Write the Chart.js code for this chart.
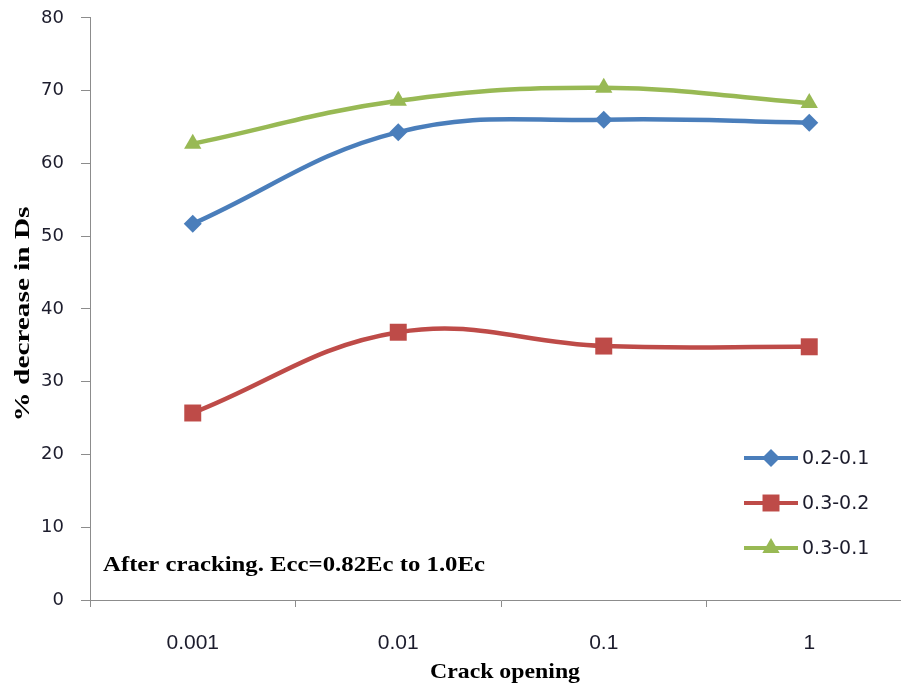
<!DOCTYPE html>
<html>
<head>
<meta charset="utf-8">
<script src="https://cdn.jsdelivr.net/npm/chart.js@4.4.1/dist/chart.umd.min.js"></script>
<style>
  html, body { margin: 0; padding: 0; background: #fff; overflow: hidden; }
  #wrap { width: 901px; height: 691px; overflow: hidden; }
</style>
</head>
<body>
<div id="wrap"><canvas id="canvas" width="924" height="691"></canvas></div>
<script>
// データ
var crackOpening = ['0.001', '0.01', '0.1', '1'];
var s02_01 = [51.7, 64.3, 66.0, 65.6];
var s03_02 = [25.7, 36.8, 34.9, 34.8];
var s03_01 = [62.7, 68.6, 70.4, 68.3];
var seriesNames = ['0.2-0.1', '0.3-0.2', '0.3-0.1'];
var yTicks = [0, 10, 20, 30, 40, 50, 60, 70, 80];

var blue = '#4A7EBB';
var red = '#BE4B48';
var green = '#98B954';
var serif = '"Liberation Serif", "Times New Roman", serif';

// 横に引き伸ばした太字セリフ文字
function wideText(ctx, text, x, y, size, targetW, align) {
  ctx.save();
  ctx.font = 'bold ' + size + 'px ' + serif;
  var w = ctx.measureText(text).width;
  var k = targetW / w;
  ctx.translate(x, y);
  ctx.scale(k, 1);
  ctx.textAlign = align;
  ctx.textBaseline = 'middle';
  ctx.fillStyle = '#000';
  ctx.fillText(text, 0, 0);
  ctx.restore();
}

// 凡例・注記・軸タイトル（Excel風）
var extraText = {
  id: 'extraText',
  afterDraw: function(chart) {
    var ctx = chart.ctx;
    var ds = chart.data.datasets;
    ctx.save();
    ds.forEach(function(d, i) {
      var y = 458 + i * 45;
      ctx.strokeStyle = d.borderColor;
      ctx.lineWidth = 4;
      ctx.beginPath();
      ctx.moveTo(744, y);
      ctx.lineTo(798, y);
      ctx.stroke();
      ctx.fillStyle = d.backgroundColor;
      Chart.helpers.drawPoint(ctx, {pointStyle: d.pointStyle, rotation: 0, radius: d.pointRadius, borderWidth: 0}, 771, y);
      ctx.fillStyle = '#1c1c2c';
      ctx.font = '19px "DejaVu Sans", Verdana, sans-serif';
      ctx.textBaseline = 'middle';
      ctx.textAlign = 'left';
      ctx.fillText(d.label, 802, y + 1);
    });
    ctx.restore();

    wideText(ctx, 'After cracking. Ecc=0.82Ec to 1.0Ec', 103, 566, 20, 382, 'left');
    wideText(ctx, 'Crack opening', 505, 673, 21, 150, 'center');

    ctx.save();
    ctx.translate(23, 314);
    ctx.rotate(-Math.PI / 2);
    wideText(ctx, '% decrease in Ds', 0, 0, 22, 215, 'center');
    ctx.restore();
  }
};

function pt(style, r) {
  return { pointStyle: style, pointRadius: r, pointHoverRadius: r, pointBorderWidth: 0 };
}

var datasets = [
  Object.assign({ label: seriesNames[0], data: s02_01, borderColor: blue, backgroundColor: blue }, pt('rectRot', 9)),
  Object.assign({ label: seriesNames[1], data: s03_02, borderColor: red, backgroundColor: red }, pt('rect', 12)),
  Object.assign({ label: seriesNames[2], data: s03_01, borderColor: green, backgroundColor: green }, pt('triangle', 10))
];
datasets.forEach(function(d) {
  d.borderWidth = 4.5;
  d.tension = 0.4;
  d.fill = false;
});

window.onload = function() {
  var ctx = document.getElementById('canvas').getContext('2d');
  window.myChart = new Chart(ctx, {
    type: 'line',
    data: { labels: crackOpening, datasets: datasets },
    options: {
      responsive: false,
      animation: false,
      // 上端はy目盛の padding + ラベル高さ/2 で決まる（lineHeightを小さくして約18pxに）
      layout: { autoPadding: true, padding: { left: 0, top: 0, right: 12, bottom: 0 } },
      plugins: {
        legend: { display: false },
        tooltip: { enabled: false }
      },
      scales: {
        x: {
          offset: true,
          grid: { offset: true, drawOnChartArea: false, color: '#8c8c8c', tickLength: 7, lineWidth: 1 },
          border: { color: '#8c8c8c', width: 1 },
          ticks: { color: '#1c1c2c', font: { family: '"Liberation Sans", Arial, sans-serif', size: 21 }, padding: 24, maxRotation: 0 },
          afterFit: function(s) { s.height = 91; }
        },
        y: {
          min: 0, max: 80,
          afterBuildTicks: function(s) { s.ticks = yTicks.map(function(v) { return { value: v }; }); },
          grid: { drawOnChartArea: false, color: '#8c8c8c', tickLength: 9 },
          border: { color: '#8c8c8c', width: 1 },
          ticks: { color: '#1c1c2c', font: { family: '"DejaVu Sans", Verdana, sans-serif', size: 18, lineHeight: 0.1 }, padding: 17 },
          afterFit: function(s) { s.width = 90; }
        }
      }
    },
    plugins: [extraText]
  });
};
</script>
</body>
</html>
